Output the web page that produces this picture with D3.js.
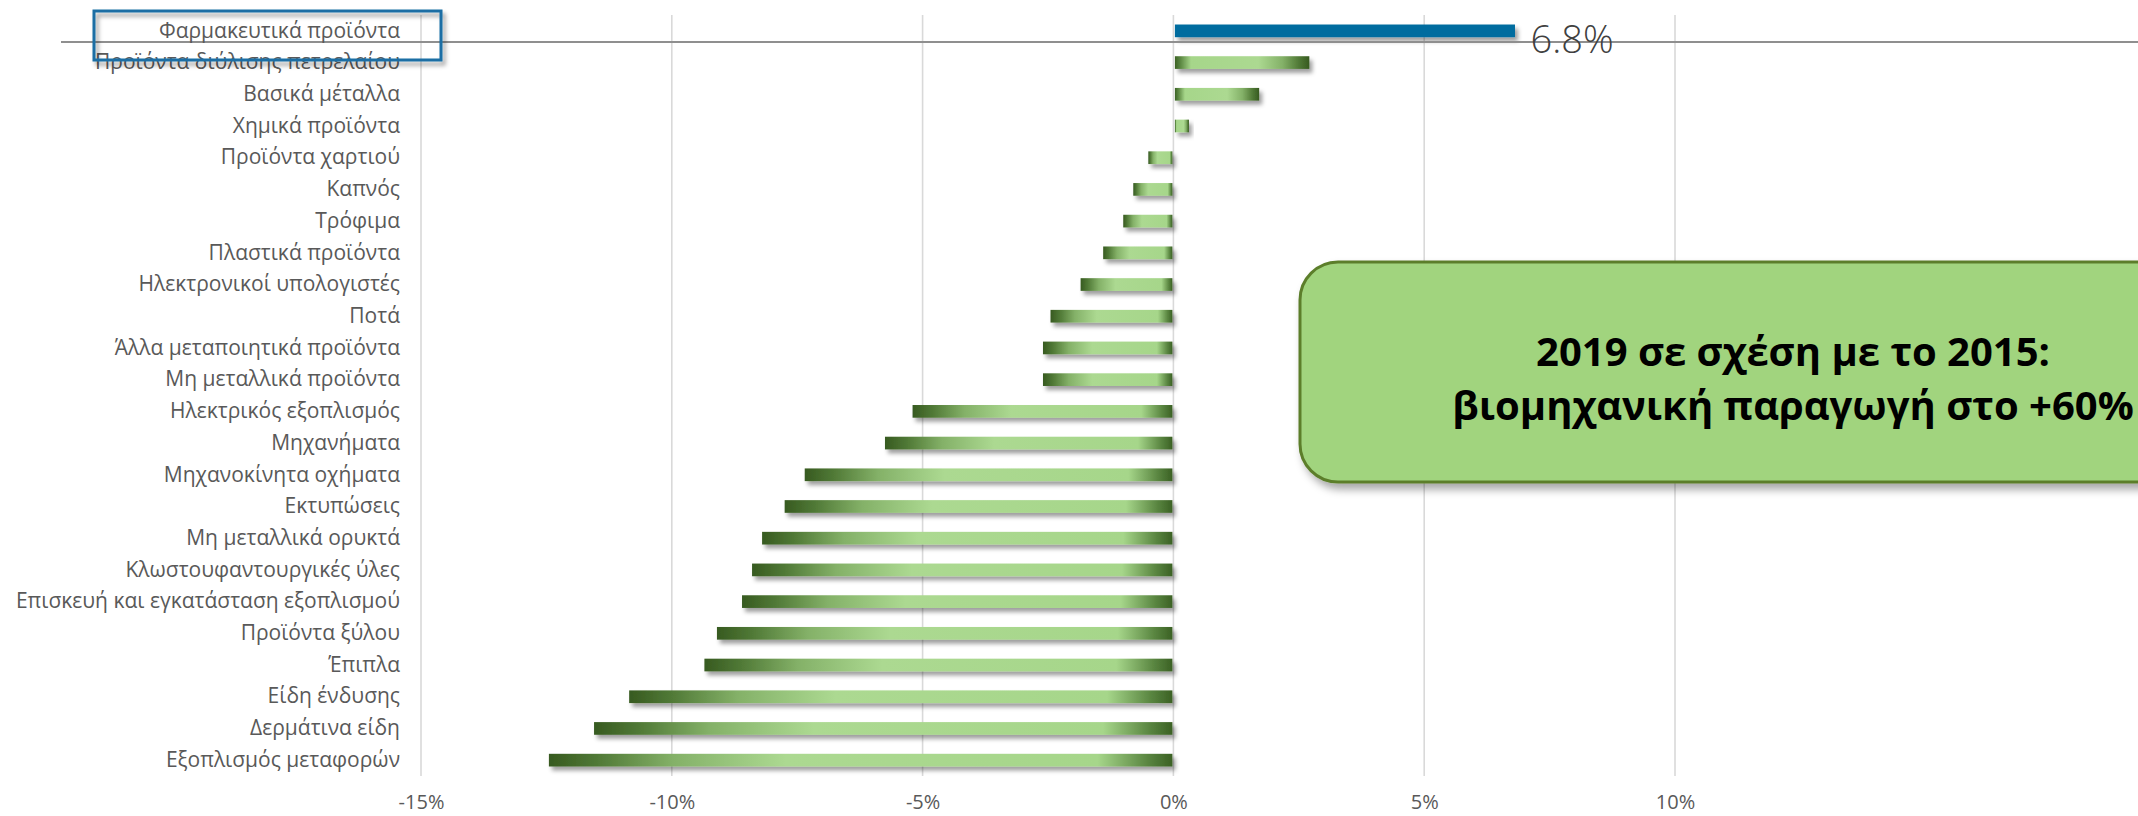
<!DOCTYPE html>
<html>
<head>
<meta charset="utf-8">
<script src="https://cdn.jsdelivr.net/npm/d3@7"></script>
<style>
  body { margin: 0; background: #fff; }
  text { font-family: "Open Sans", "Noto Sans", sans-serif; }
</style>
</head>
<body>
<div id="chart"></div>
<script>
// Change in industrial production by branch, 2019 vs 2015

const categories = [
    'Φαρμακευτικά προϊόντα',
    'Προϊόντα διύλισης πετρελαίου',
    'Βασικά μέταλλα',
    'Χημικά προϊόντα',
    'Προϊόντα χαρτιού',
    'Καπνός',
    'Τρόφιμα',
    'Πλαστικά προϊόντα',
    'Ηλεκτρονικοί υπολογιστές',
    'Ποτά',
    'Άλλα μεταποιητικά προϊόντα',
    'Μη μεταλλικά προϊόντα',
    'Ηλεκτρικός εξοπλισμός',
    'Μηχανήματα',
    'Μηχανοκίνητα οχήματα',
    'Εκτυπώσεις',
    'Μη μεταλλικά ορυκτά',
    'Κλωστουφαντουργικές ύλες',
    'Επισκευή και εγκατάσταση εξοπλισμού',
    'Προϊόντα ξύλου',
    'Έπιπλα',
    'Είδη ένδυσης',
    'Δερμάτινα είδη',
    'Εξοπλισμός μεταφορών'
];

const values = [
    6.8, 2.7, 1.7, 0.3, -0.5, -0.8, -1.0, -1.4, -1.85, -2.45, -2.6, -2.6,
    -5.2, -5.75, -7.35, -7.75, -8.2, -8.4, -8.6, -9.1, -9.35, -10.85, -11.55, -12.45
];

const xTicks = [-15, -10, -5, 0, 5, 10];
const highlightIndex = 0;
const calloutLines = ['2019 σε σχέση με το 2015:', 'βιομηχανική παραγωγή στο +60%'];

const width = 2138;
const height = 816;

var svg = d3.select('#chart').append('svg')
    .attr('width', width)
    .attr('height', height);

var defs = svg.append('defs');

// soft drop shadow like the office chart
var shadow = defs.append('filter')
    .attr('id', 'shadow')
    .attr('x', '-20%').attr('y', '-50%')
    .attr('width', '150%').attr('height', '250%');
shadow.append('feDropShadow')
    .attr('dx', 3).attr('dy', 4)
    .attr('stdDeviation', 2.2)
    .attr('flood-color', '#000')
    .attr('flood-opacity', 0.38);

var boxShadow = defs.append('filter')
    .attr('id', 'boxShadow')
    .attr('x', '-10%').attr('y', '-20%')
    .attr('width', '130%').attr('height', '150%');
boxShadow.append('feDropShadow')
    .attr('dx', 4).attr('dy', 6)
    .attr('stdDeviation', 4)
    .attr('flood-color', '#000')
    .attr('flood-opacity', 0.35);

// gradient runs from the zero end of the bar to its far end
function makeGradient(id, reversed) {
    var grad = defs.append('linearGradient')
        .attr('id', id)
        .attr('x1', reversed ? 1 : 0).attr('x2', reversed ? 0 : 1)
        .attr('y1', 0).attr('y2', 0);
    var stops = [
        [0, '#3b6124'], [0.04, '#5a8641'], [0.12, '#a6d68a'],
        [0.62, '#acd991'], [0.8, '#84b168'], [0.92, '#517a37'], [1, '#375a20']
    ];
    stops.forEach(function(s) {
        grad.append('stop').attr('offset', s[0]).attr('stop-color', s[1]);
    });
}
makeGradient('greenPos', false);
makeGradient('greenNeg', true);

// Scales
var xScale = d3.scaleLinear().domain([-15, 10]).range([421, 1675]);
var yScale = d3.scaleBand().domain(categories).range([15, 776]).padding(0);
var bw = yScale.bandwidth();

// Gridlines
svg.append('g')
    .selectAll('line')
    .data(xTicks)
    .enter()
    .append('line')
    .attr('x1', function(d) { return xScale(d); })
    .attr('x2', function(d) { return xScale(d); })
    .attr('y1', 15)
    .attr('y2', 776)
    .attr('stroke', '#d9d9d9')
    .attr('stroke-width', 1.6);

// Bars
var data = categories.map(function(c, i) { return {name: c, value: values[i], i: i}; });

svg.append('g')
    .selectAll('rect')
    .data(data)
    .enter()
    .append('rect')
    .attr('x', function(d) { return Math.min(xScale(d.value), xScale(0)) + (d.value > 0 ? 1.5 : 0); })
    .attr('y', function(d) { return yScale(d.name) + bw * 0.3; })
    .attr('width', function(d) { return Math.abs(xScale(d.value) - xScale(0)) - 1; })
    .attr('height', bw * 0.4)
    .attr('fill', function(d) {
        if (d.i === highlightIndex) return '#066c9f';
        return d.value >= 0 ? 'url(#greenPos)' : 'url(#greenNeg)';
    })
    .attr('filter', 'url(#shadow)');

// Horizontal marker line just under the first row's bar
var markY = yScale(categories[highlightIndex]) + bw * 0.85;
svg.append('line')
    .attr('x1', 61).attr('x2', width)
    .attr('y1', markY).attr('y2', markY)
    .attr('stroke', '#8f8f8f')
    .attr('stroke-width', 2);

// Category labels
var yAxis = svg.append('g')
    .attr('transform', 'translate(400,0)')
    .call(d3.axisLeft(yScale).tickSize(0).tickPadding(0));
yAxis.select('.domain').remove();
yAxis.selectAll('text')
    .style('font-family', '"Open Sans", sans-serif')
    .style('font-size', '21px')
    .attr('fill', '#595959');

// X axis labels
var xAxis = svg.append('g')
    .attr('transform', 'translate(0,786)')
    .call(d3.axisBottom(xScale).tickValues(xTicks).tickSize(0).tickPadding(9)
        .tickFormat(function(d) { return d + '%'; }));
xAxis.select('.domain').remove();
xAxis.selectAll('text')
    .style('font-family', '"Open Sans", sans-serif')
    .style('font-size', '20px')
    .attr('fill', '#595959');

// Highlight box around the first label
svg.append('rect')
    .attr('x', 94).attr('y', 11)
    .attr('width', 347).attr('height', 49)
    .attr('fill', 'none')
    .attr('stroke', '#1b6ea4')
    .attr('stroke-width', 3)
    .attr('filter', 'url(#shadow)');

// Value label for the highlighted bar
svg.append('text')
    .attr('x', xScale(values[highlightIndex]) + 16)
    .attr('y', yScale(categories[highlightIndex]) + bw * 0.5 + 22)
    .style('font-size', '38px')
    .style('font-weight', 300)
    .attr('fill', '#404040')
    .text(d3.format('.1f')(values[highlightIndex]) + '%');

// Callout box
svg.append('rect')
    .attr('x', 1300).attr('y', 262)
    .attr('width', 1000).attr('height', 220)
    .attr('rx', 38).attr('ry', 38)
    .attr('fill', '#a1d47e')
    .attr('stroke', '#5c7e2c')
    .attr('stroke-width', 3)
    .attr('filter', 'url(#boxShadow)');

svg.append('g')
    .selectAll('text')
    .data(calloutLines)
    .enter()
    .append('text')
    .attr('x', 1793)
    .attr('y', function(d, i) { return 366 + i * 54; })
    .attr('text-anchor', 'middle')
    .style('font-size', '40px')
    .style('font-weight', 700)
    .attr('fill', '#000')
    .text(function(d) { return d; });
</script>
</body>
</html>
